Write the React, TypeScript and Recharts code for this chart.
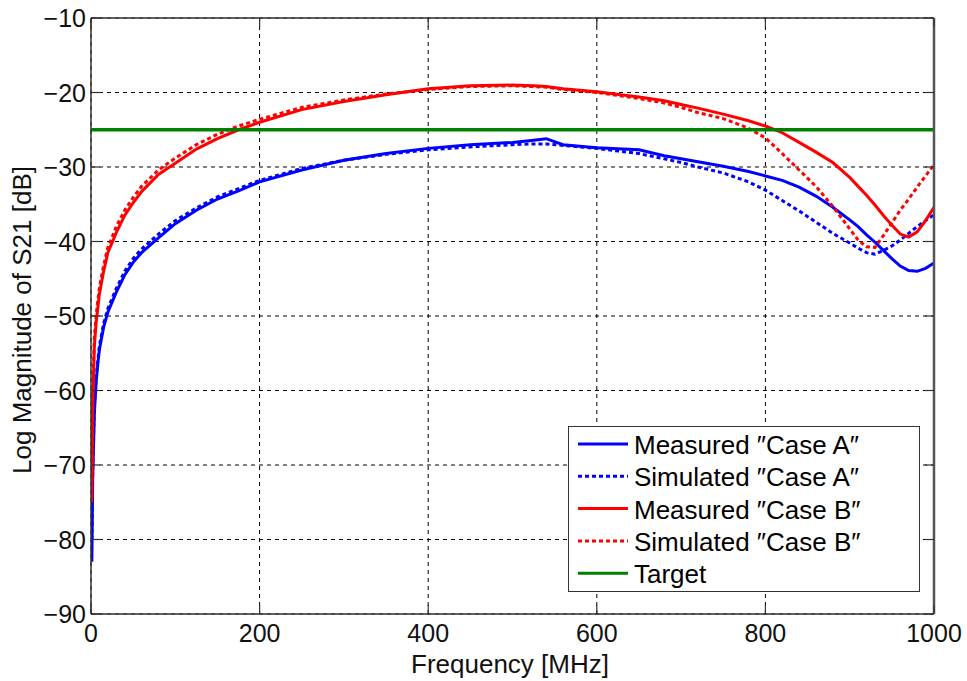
import React from 'react';
import { LineChart, Line, XAxis, YAxis, CartesianGrid, Legend } from 'recharts';

// Frequency grid (MHz) shared by the four S21 traces
const frequencyMHz = [
  1, 2, 4, 6, 8, 10, 15, 20, 30, 40, 50, 60, 80, 100, 125, 150, 175, 200, 250, 300,
  350, 400, 450, 500, 525, 540, 560, 600, 650, 680, 700, 720, 750, 780, 800, 820, 840, 860, 880, 900,
  910, 920, 930, 940, 950, 960, 970, 980, 990, 1000,
];

// |S21| in dB
const measuredCaseA = [
  -83, -72, -63, -59, -56.5, -54.5, -51.5, -49.5, -46.8, -44.5, -42.8, -41.5, -39.5, -37.6, -35.8, -34.3, -33.2, -32.0, -30.4, -29.1,
  -28.2, -27.5, -27.0, -26.7, -26.4, -26.2, -27.0, -27.4, -27.7, -28.5, -28.9, -29.3, -29.9, -30.6, -31.2, -31.8, -32.7, -33.9, -35.4, -37.1,
  -38.0, -39.1, -40.1, -41.2, -42.3, -43.3, -43.9, -44.0, -43.6, -42.9,
];

const simulatedCaseA = [
  -80, -70, -62, -58.5, -56, -54, -51, -49, -46.3, -44, -42.3, -41, -39, -37.2, -35.5, -34.0, -32.9, -31.8, -30.2, -29.1,
  -28.3, -27.7, -27.3, -27.0, -26.9, -26.9, -27.1, -27.5, -28.2, -28.9, -29.4, -30.0, -30.8, -32.0, -33.1, -34.5, -35.9, -37.4, -38.9, -40.2,
  -40.9, -41.5, -41.7, -41.2, -40.6, -39.8, -38.9, -38.0, -37.2, -36.4,
];

const measuredCaseB = [
  -75, -62, -54, -51, -49, -47, -44, -41.5, -38.8, -36.5, -34.8, -33.3, -31.0, -29.5, -27.6, -26.2, -25.0, -24.0, -22.3, -21.2,
  -20.3, -19.5, -19.1, -19.0, -19.1, -19.2, -19.5, -19.9, -20.6, -21.1, -21.6, -22.1, -22.9, -23.8, -24.5, -25.4, -26.7, -28.0, -29.4, -31.4,
  -32.6, -33.8, -35.1, -36.5, -37.8, -39.0, -39.4, -38.7, -37.2, -35.4,
];

const simulatedCaseB = [
  -72, -60, -53, -50, -48, -46.2, -43.2, -40.8, -38.0, -35.8, -34.1, -32.6, -30.4, -28.8, -27.0, -25.6, -24.5, -23.6, -22.0, -21.0,
  -20.2, -19.6, -19.2, -19.1, -19.2, -19.3, -19.6, -20.0, -20.8, -21.4, -22.0, -22.7, -23.5, -24.8, -26.1, -28.2, -30.4, -32.6, -35.3, -38.3,
  -39.8, -40.7, -40.8, -39.2, -37.5, -35.8, -34.3, -32.7, -31.2, -29.7,
];

// Design target level (dB) across the whole band
const targetFrequencyMHz = [0, 1000];
const targetLevelDb = [-25, -25];

const xTicks = [0, 200, 400, 600, 800, 1000];
const yTicks = [-90, -80, -70, -60, -50, -40, -30, -20, -10];

const rows = frequencyMHz.map((f, i) => ({
  f,
  measuredA: measuredCaseA[i],
  simulatedA: simulatedCaseA[i],
  measuredB: measuredCaseB[i],
  simulatedB: simulatedCaseB[i],
}));

const targetRows = targetFrequencyMHz.map((f, i) => ({ f, target: targetLevelDb[i] }));

const series = [
  { key: 'measuredA', name: 'Measured ″Case A″', color: '#0000ff', dash: undefined as string | undefined },
  { key: 'simulatedA', name: 'Simulated ″Case A″', color: '#0000ff', dash: '4 3' },
  { key: 'measuredB', name: 'Measured ″Case B″', color: '#ff0000', dash: undefined },
  { key: 'simulatedB', name: 'Simulated ″Case B″', color: '#ff0000', dash: '4 3' },
  { key: 'target', name: 'Target', color: '#008000', dash: undefined },
];

const FONT = '"Liberation Sans", Arial, "DejaVu Sans", sans-serif';
const FRAME = '#333333';
const TICK_LEN = 9;

const fmt = (v: number) => String(v).replace('-', '\u2212');

const BottomTick = (props: any) => {
  const { x, y, payload } = props;
  return (
    <g>
      <line x1={x} x2={x} y1={y} y2={y - TICK_LEN} stroke={FRAME} strokeWidth={1.2} />
      <text x={x} y={y + 19} textAnchor="middle" dominantBaseline="central" fontSize={25} fontFamily={FONT} fill="#111">
        {fmt(payload.value)}
      </text>
    </g>
  );
};

const LeftTick = (props: any) => {
  const { x, y, payload } = props;
  return (
    <g>
      <line x1={x} x2={x + TICK_LEN} y1={y} y2={y} stroke={FRAME} strokeWidth={1.2} />
      <text x={x - 5} y={y} textAnchor="end" dominantBaseline="central" fontSize={25} fontFamily={FONT} fill="#111">
        {fmt(payload.value)}
      </text>
    </g>
  );
};

const TopTick = (props: any) => {
  const { x, y } = props;
  return <line x1={x} x2={x} y1={y} y2={y + TICK_LEN} stroke={FRAME} strokeWidth={1.2} />;
};

const RightTick = (props: any) => {
  const { x, y } = props;
  return <line x1={x} x2={x - TICK_LEN} y1={y} y2={y} stroke={FRAME} strokeWidth={1.2} />;
};

const LegendBox = () => (
  <div
    style={{
      width: 352,
      height: 166,
      boxSizing: 'border-box',
      border: `1.5px solid ${FRAME}`,
      background: '#fff',
    }}
  >
    <svg width={350} height={163} style={{ display: 'block' }}>
      {series.map((s, i) => {
        const cy = 17 + i * 32.3;
        return (
          <g key={s.key}>
            <line x1={9} x2={59} y1={cy} y2={cy} stroke={s.color} strokeWidth={3} strokeDasharray={s.dash} />
            <text x={65} y={cy + 1} dominantBaseline="central" fontSize={26} fontFamily={FONT} fill="#000">
              {s.name}
            </text>
          </g>
        );
      })}
    </svg>
  </div>
);

export default function App() {
  return (
    <div style={{ position: 'absolute', left: 0, top: 0, width: 967, height: 681, background: '#fff' }}>
      <LineChart width={967} height={681} data={rows} margin={{ top: 17, right: 32, bottom: 0, left: 0 }}>
        <CartesianGrid stroke="#000" strokeWidth={1} strokeDasharray="4 4" />
        <XAxis
          dataKey="f"
          type="number"
          domain={[0, 1000]}
          ticks={xTicks}
          allowDataOverflow
          height={67}
          tickSize={0}
          tickMargin={0}
          tickLine={false}
          axisLine={{ stroke: FRAME, strokeWidth: 1.5 }}
          tick={<BottomTick />}
          interval={0}
          label={{
            content: () => (
              <text x={510} y={664} textAnchor="middle" dominantBaseline="central" fontSize={26} fontFamily={FONT} fill="#111">
                Frequency [MHz]
              </text>
            ),
          }}
        />
        <XAxis
          xAxisId="top"
          orientation="top"
          dataKey="f"
          type="number"
          domain={[0, 1000]}
          ticks={xTicks}
          allowDataOverflow
          height={1}
          tickSize={0}
          tickMargin={0}
          tickLine={false}
          axisLine={{ stroke: FRAME, strokeWidth: 1.5 }}
          tick={<TopTick />}
          interval={0}
        />
        <YAxis
          type="number"
          domain={[-90, -10]}
          ticks={yTicks}
          allowDataOverflow
          width={91}
          tickSize={0}
          tickMargin={0}
          tickLine={false}
          axisLine={{ stroke: FRAME, strokeWidth: 1.5 }}
          tick={<LeftTick />}
          interval={0}
          label={{
            content: () => (
              <text
                x={22}
                y={320}
                transform="rotate(-90 22 320)"
                textAnchor="middle"
                dominantBaseline="central"
                fontSize={26}
                fontFamily={FONT}
                fill="#111"
              >
                Log Magnitude of S21 [dB]
              </text>
            ),
          }}
        />
        <YAxis
          yAxisId="right"
          orientation="right"
          type="number"
          domain={[-90, -10]}
          ticks={yTicks}
          allowDataOverflow
          width={1}
          tickSize={0}
          tickMargin={0}
          tickLine={false}
          axisLine={{ stroke: '#555', strokeWidth: 2.5 }}
          tick={<RightTick />}
          interval={0}
        />
        {series.slice(0, 4).map((s) => (
          <Line
            key={s.key}
            dataKey={s.key}
            name={s.name}
            type="linear"
            stroke={s.color}
            strokeWidth={3}
            strokeDasharray={s.dash}
            dot={false}
            isAnimationActive={false}
          />
        ))}
        <Line
          data={targetRows}
          dataKey="target"
          name="Target"
          type="linear"
          stroke="#008000"
          strokeWidth={3.5}
          dot={false}
          isAnimationActive={false}
        />
        <Legend
          layout="vertical"
          align="center"
          verticalAlign="middle"
          wrapperStyle={{ position: 'absolute', left: 568, top: 426, width: 352, height: 166 }}
          content={() => <LegendBox />}
        />
      </LineChart>
    </div>
  );
}
